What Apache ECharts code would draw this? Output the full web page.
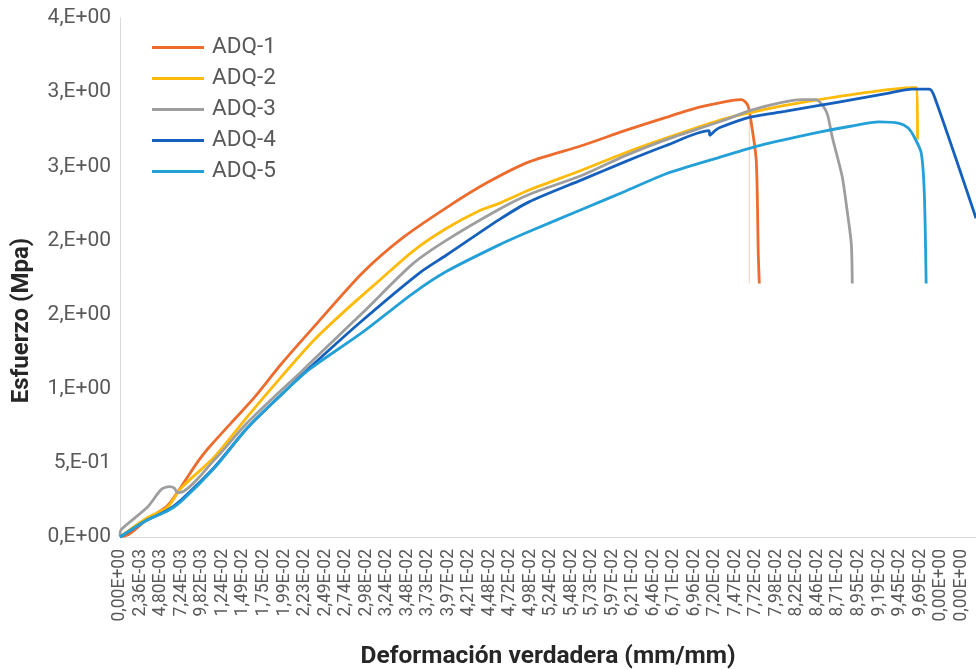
<!DOCTYPE html>
<html>
<head>
<meta charset="utf-8">
<script src="https://cdn.jsdelivr.net/npm/echarts@6/dist/echarts.min.js"></script>
<style>html,body{margin:0;padding:0;background:#fff}#c{width:976px;height:669px}</style>
</head>
<body>
<div id="c"></div>
<script>
// Category tick labels (x position = category index)
const xTickLabels = ['0,00E+00','2,36E-03','4,80E-03','7,24E-03','9,82E-03','1,24E-02','1,49E-02','1,75E-02','1,99E-02','2,23E-02','2,49E-02','2,74E-02','2,98E-02','3,24E-02','3,48E-02','3,73E-02','3,97E-02','4,21E-02','4,48E-02','4,72E-02','4,98E-02','5,24E-02','5,48E-02','5,73E-02','5,97E-02','6,21E-02','6,46E-02','6,71E-02','6,96E-02','7,20E-02','7,47E-02','7,72E-02','7,98E-02','8,22E-02','8,46E-02','8,71E-02','8,95E-02','9,19E-02','9,45E-02','9,69E-02','0,00E+00','0,00E+00'];
const yTickLabels = ['0,E+00','5,E-01','1,E+00','2,E+00','2,E+00','3,E+00','3,E+00','4,E+00'];
const seriesNames = ['ADQ-1','ADQ-2','ADQ-3','ADQ-4','ADQ-5'];

// [category index, stress MPa]
const adq1 = [[0,0],[0.45,0.02],[1.33,0.12],[2.31,0.21],[3.13,0.37],[3.7,0.49],[4.25,0.59],[5.42,0.77],[6.54,0.94],[7.82,1.16],[9.47,1.42],[11.81,1.78],[13.8,2.02],[15.9,2.22],[17.9,2.39],[19.94,2.53],[22.53,2.64],[24.6,2.74],[26.62,2.83],[28.3,2.9],[29.84,2.945],[30.3,2.95],[30.6,2.91],[30.77,2.79],[31.01,2.54],[31.11,1.9],[31.16,1.71]];
const adq1b = [[30.67,2.8],[30.67,1.71]];
const adq2 = [[0,0],[1.33,0.13],[2.31,0.2],[2.98,0.33],[4.6,0.54],[6.2,0.81],[7.86,1.08],[9.47,1.33],[11.0,1.53],[12.64,1.73],[14.3,1.93],[15.9,2.08],[17.51,2.2],[18.48,2.25],[19.94,2.34],[22.53,2.475],[24.6,2.59],[26.62,2.69],[29.21,2.81],[30.67,2.86],[32.4,2.91],[34.08,2.95],[36.52,3.0],[38.61,3.03],[38.85,3.03],[38.87,2.68]];
const adq3 = [[0,0.01],[0.06,0.05],[1.33,0.2],[2.01,0.32],[2.4,0.34],[2.65,0.33],[2.79,0.3],[2.9,0.3],[4.6,0.52],[6.2,0.77],[7.86,0.99],[8.88,1.12],[9.47,1.2],[11.81,1.51],[14.25,1.84],[15.9,2.0],[18.48,2.21],[19.94,2.31],[22.53,2.44],[24.6,2.57],[26.62,2.68],[29.21,2.8],[30.82,2.88],[32.2,2.93],[33.25,2.95],[33.93,2.95],[34.3,2.9],[34.5,2.84],[34.71,2.7],[35.2,2.43],[35.44,2.2],[35.64,1.98],[35.69,1.71]];
const adq4 = [[0,0],[1.33,0.115],[2.31,0.18],[2.98,0.25],[4.6,0.47],[6.2,0.735],[7.86,0.96],[9.47,1.17],[11.81,1.46],[14.59,1.78],[15.9,1.9],[18.48,2.14],[19.94,2.26],[22.53,2.41],[24.6,2.53],[26.62,2.64],[28.7,2.74],[28.75,2.71],[29.0,2.74],[29.21,2.76],[30.67,2.83],[32.4,2.87],[34.08,2.91],[35.7,2.95],[37.34,2.99],[38.61,3.02],[39.44,3.02],[39.69,2.97],[41.72,2.15]];
const adq5 = [[0,0],[1.33,0.115],[2.31,0.175],[2.98,0.24],[4.6,0.465],[6.2,0.735],[7.86,0.96],[9.23,1.13],[11.81,1.38],[14.25,1.64],[15.9,1.79],[18.48,1.97],[19.94,2.06],[22.53,2.21],[24.6,2.33],[26.62,2.45],[29.21,2.56],[31.16,2.64],[34.08,2.73],[35.6,2.77],[37.0,2.8],[37.98,2.79],[38.4,2.76],[38.7,2.7],[39.05,2.59],[39.2,2.32],[39.29,1.71]];

const colors = ['#ED6B2D','#FFBA0A','#9E9E9E','#1560BD','#23A0D8'];
const chart = echarts.init(document.getElementById('c'), null, {renderer:'canvas'});
const mk = (name, data, color, extra) => Object.assign({
  name, type:'line', data, symbol:'none', showSymbol:false, smooth:0.25,
  lineStyle:{color, width:2.8}, itemStyle:{color}, emphasis:{disabled:true}
}, extra||{});

chart.setOption({
  animation:false,
  grid:{left:120, top:18, width:856, height:519, containLabel:false, outerBoundsMode:'none'},
  legend:{
    data:seriesNames, orient:'vertical', left:147, top:31,
    icon:'rect', itemWidth:52, itemHeight:3, itemGap:8,
    textStyle:{fontFamily:'Roboto', fontSize:22.5, color:'#595959', lineHeight:22, padding:[0,0,0,3]}
  },
  xAxis:{
    type:'value', min:0, max:41.72, interval:1,
    name:'Deformación verdadera (mm/mm)', nameLocation:'middle', nameGap:107,
    nameTextStyle:{fontFamily:'Roboto', fontWeight:'bold', fontSize:24.5, color:'#262626'},
    axisLine:{show:true, lineStyle:{color:'#D9D9D9', width:1}},
    axisTick:{show:false}, splitLine:{show:false},
    axisLabel:{rotate:90, margin:12, fontFamily:'Roboto', fontSize:17.5, color:'#595959',
      showMaxLabel:false,
      formatter:(v)=>{const i=Math.round(v); return Math.abs(v-i)<1e-6 && xTickLabels[i]!==undefined ? xTickLabels[i] : '';}}
  },
  yAxis:{
    type:'value', min:0, max:3.5, interval:0.5,
    name:'Esfuerzo (Mpa)', nameLocation:'middle', nameGap:86,
    nameTextStyle:{fontFamily:'Roboto', fontWeight:'bold', fontSize:24, color:'#262626', padding:[0,86,0,0]},
    axisLine:{show:true, lineStyle:{color:'#D9D9D9', width:1}},
    axisTick:{show:false}, splitLine:{show:false},
    axisLabel:{margin:9, fontFamily:'Roboto', fontSize:21, color:'#595959',
      formatter:(v)=>{const i=Math.round(v/0.5); return yTickLabels[i]||'';}}
  },
  series:[
    mk('ADQ-1b', adq1b, colors[0], {smooth:false, lineStyle:{color:colors[0], width:1, opacity:0.35}}),
    mk('ADQ-1', adq1, colors[0]),
    mk('ADQ-2', adq2, colors[1]),
    mk('ADQ-3', adq3, colors[2]),
    mk('ADQ-4', adq4, colors[3]),
    mk('ADQ-5', adq5, colors[4])
  ]
});
</script>
</body>
</html>
